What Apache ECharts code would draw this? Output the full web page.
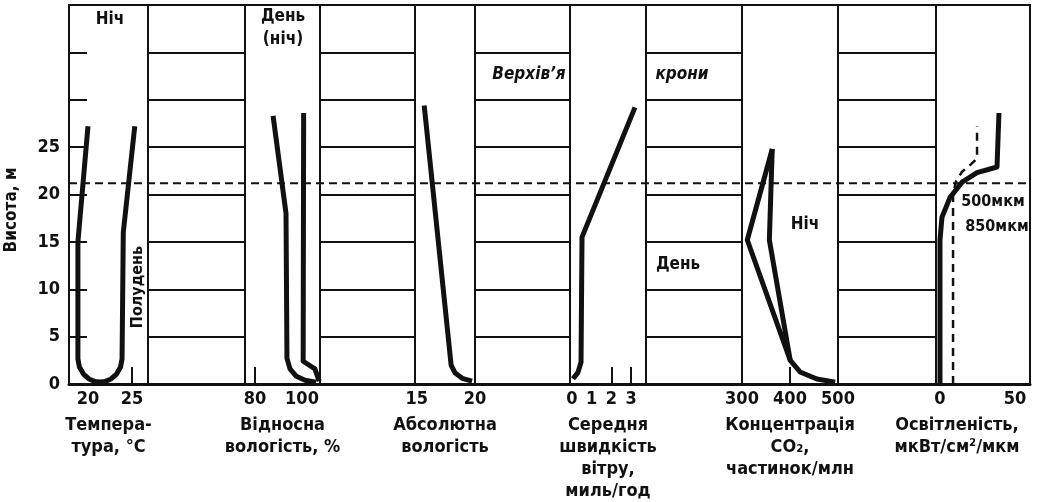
<!DOCTYPE html>
<html>
<head>
<meta charset="utf-8">
<script src="https://cdn.jsdelivr.net/npm/echarts@6/dist/echarts.min.js"></script>
<style>
  html, body { margin: 0; padding: 0; background: #fff; }
  #chart { width: 1039px; height: 502px; }
</style>
</head>
<body>
<div id="chart"></div>
<script>
// Vertical profiles inside a tropical forest: height (m) against six quantities.
const heightTicks = [0, 5, 10, 15, 20, 25];
const canopyTop = 21.2;

// Temperature, °C: night branch down to the ground, then midday branch back up
const tempX = [20.0, 18.86, 18.86, 19.03, 19.49, 20.11, 20.8, 21.36, 21.93, 22.61, 23.24, 23.69, 23.86, 24.0, 25.3];
const tempH = [27.2, 15.0, 2.64, 1.79, 1.05, 0.53, 0.26, 0.21, 0.26, 0.53, 1.05, 1.79, 2.64, 16.0, 27.2];

// Relative humidity, %
const rhDayX = [87.7, 93.2, 93.6, 94.9, 97.4, 101.3, 106.0];
const rhDayH = [28.3, 18.0, 2.7, 1.6, 0.85, 0.4, 0.2];
const rhNightX = [100.7, 100.5, 105.5, 107.3];
const rhNightH = [28.6, 2.4, 1.6, 0.3];

// Absolute humidity
const absX = [15.64, 17.95, 18.3, 18.9, 19.75];
const absH = [29.4, 2.0, 1.15, 0.6, 0.3];

// Mean wind speed, miles/h
const windX = [3.2, 0.51, 0.46, 0.3, 0.05];
const windH = [29.2, 15.5, 2.3, 1.2, 0.55];

// CO2 concentration, ppm
const co2DayX = [363, 311, 400.5, 421, 456, 494];
const co2DayH = [24.8, 15.2, 2.5, 1.27, 0.53, 0.2];
const co2NightX = [363, 357, 400.5];
const co2NightH = [24.8, 15.2, 2.5];

// Illumination, µW/cm²/µm at 500 µm (solid) and 850 µm (dashed)
const light500X = [0, 0, 1.3, 6.7, 14.7, 24.7, 38, 39.3, 39.3];
const light500H = [0, 15.2, 17.6, 19.7, 21.3, 22.3, 22.9, 23.0, 28.6];
const light850X = [8.7, 8.7, 10.7, 14.7, 20.7, 24.7, 24.7];
const light850H = [0, 20, 21.4, 22.4, 23.2, 23.8, 27.2];

// Axis labels and tick marks of each panel
const tempLabels = [20, 25], tempMarks = [25];
const rhLabels = [80, 100], rhMarks = [80];
const absLabels = [15, 20], absMarks = [];
const windLabels = [0, 1, 2, 3], windMarks = [2, 3];
const co2Labels = [300, 400, 500], co2Marks = [400];
const lightLabels = [0, 50], lightMarks = [];

const pairs = (xs, hs) => xs.map((x, i) => [x, hs[i]]);

const FONT = "'DejaVu Sans Condensed', 'Liberation Sans Narrow', 'DejaVu Sans', sans-serif";
const WEIGHT = 'bold';
const INK = '#111';
const W = 1039, H = 502, TOP = 5, BOTTOM = 384;

// panel layout: [left, right] in px, axis range, labels, marks, title
const panels = [
  { l: 69,  r: 148,  min: 17.85, max: 26.8,  labels: tempLabels,  marks: tempMarks,  name: 'Темпера-\nтура, °C' },
  { l: 245, r: 320,  min: 75.75, max: 107.66, labels: rhLabels,   marks: rhMarks,    name: 'Відносна\nвологість, %' },
  { l: 415, r: 475,  min: 14.85, max: 20,    labels: absLabels,   marks: absMarks,   name: 'Абсолютна\nвологість' },
  { l: 570, r: 646,  min: -0.1,  max: 3.76,  labels: windLabels,  marks: windMarks,  name: 'Середня\nшвидкість\nвітру,\nмиль/год' },
  { l: 742, r: 838,  min: 300,   max: 500,   labels: co2Labels,   marks: co2Marks,   name: 'Концентрація\nCO₂,\nчастинок/млн' },
  { l: 936, r: 1030, min: -2.67, max: 60,    labels: lightLabels, marks: lightMarks, name: 'Освітленість,\nмкВт/см²/мкм', shift: 52 }
];
const stripes = [[148, 245], [320, 415], [475, 570], [646, 742], [838, 936]];

const grids = [], xAxes = [], yAxes = [], series = [];
const gridBox = (l, r) => ({ left: l, right: W - r, top: TOP, bottom: H - BOTTOM, outerBoundsMode: 'none', containLabel: false });

// frame grid with the height axis and the canopy line
grids.push(Object.assign(gridBox(69, 1030), { show: true, borderColor: INK, borderWidth: 2 }));
xAxes.push({ gridIndex: 0, type: 'value', min: 0, max: 1, axisLabel: { show: false }, axisTick: { show: false }, splitLine: { show: false },
  axisLine: { show: true, lineStyle: { color: INK, width: 3 } } });
yAxes.push({ gridIndex: 0, type: 'value', min: 0, max: 40, interval: 5,
  axisLine: { show: false }, splitLine: { show: false },
  axisTick: { show: true, inside: true, length: 18, lineStyle: { color: INK, width: 2 } },
  axisLabel: { margin: 9, fontFamily: FONT, fontWeight: WEIGHT, fontSize: 18, color: INK,
    formatter: v => heightTicks.indexOf(v) >= 0 ? String(v) : '' } });
series.push({ type: 'line', xAxisIndex: 0, yAxisIndex: 0, data: [[0, canopyTop], [1, canopyTop]], showSymbol: false, silent: true, z: 1,
  lineStyle: { color: INK, width: 2, type: [8, 5] } });

// striped columns: horizontal rules every 5 m
stripes.forEach(([l, r]) => {
  const gi = grids.length;
  grids.push(Object.assign(gridBox(l, r), { show: true, borderColor: INK, borderWidth: 2 }));
  xAxes.push({ gridIndex: gi, type: 'value', min: 0, max: 1, show: false });
  yAxes.push({ gridIndex: gi, type: 'value', min: 0, max: 40, interval: 5,
    axisLine: { show: false }, axisTick: { show: false }, axisLabel: { show: false },
    splitLine: { show: true, lineStyle: { color: INK, width: 2 } } });
});

// data panels
const panelIndex = [];
panels.forEach(p => {
  const gi = grids.length;
  panelIndex.push(gi);
  grids.push(gridBox(p.l, p.r));
  xAxes.push({ gridIndex: gi, type: 'value', min: p.min, max: p.max,
    axisLine: { show: false }, splitLine: { show: false },
    axisTick: { show: true, inside: true, length: 17, customValues: p.marks, lineStyle: { color: INK, width: 2 } },
    axisLabel: { customValues: p.labels, margin: 6, fontFamily: FONT, fontWeight: WEIGHT, fontSize: 18, color: INK, showMinLabel: true, showMaxLabel: true, hideOverlap: false },
    name: p.name, nameLocation: 'middle', nameGap: 30,
    nameTextStyle: { fontFamily: FONT, fontWeight: WEIGHT, fontSize: 18, color: INK, lineHeight: 22, verticalAlign: 'top',
      padding: p.shift ? [0, p.shift, 0, 0] : 0 } });
  yAxes.push({ gridIndex: gi, type: 'value', min: 0, max: 40, show: false });
});

const curve = (pi, xs, hs, dashed) => ({
  type: 'line', xAxisIndex: panelIndex[pi], yAxisIndex: panelIndex[pi],
  data: pairs(xs, hs), showSymbol: false, silent: true, z: 5,
  lineStyle: dashed ? { color: INK, width: 2.5, type: [8, 6] } : { color: INK, width: 5, join: 'round' }
});

series.push(curve(0, tempX, tempH));
series.push(curve(1, rhDayX, rhDayH));
series.push(curve(1, rhNightX, rhNightH));
series.push(curve(2, absX, absH));
series.push(curve(3, windX, windH));
series.push(curve(4, co2DayX, co2DayH));
series.push(curve(4, co2NightX, co2NightH));
series.push(curve(5, light500X, light500H));
series.push(curve(5, light850X, light850H, true));

const txt = (text, x, y, size, extra) => Object.assign({
  type: 'text', x, y, z: 10,
  style: { text, font: (extra && extra.italic ? 'italic ' : '') + WEIGHT + ' ' + size + 'px ' + FONT, fill: INK, align: 'center', verticalAlign: 'middle' }
}, extra && extra.rotation ? { rotation: extra.rotation } : {});

const chart = echarts.init(document.getElementById('chart'), null, { renderer: 'canvas' });
chart.setOption({
  backgroundColor: '#fff',
  animation: false,
  grid: grids,
  xAxis: xAxes,
  yAxis: yAxes,
  series,
  graphic: [
    txt('Висота, м', 12, 210, 17, { rotation: Math.PI / 2 }),
    txt('Ніч', 110, 20, 17),
    txt('Полудень', 138, 287, 16, { rotation: Math.PI / 2 }),
    txt('День', 283, 17, 17),
    txt('(ніч)', 283, 40, 17),
    txt('Верхів’я', 529, 75, 17, { italic: true }),
    txt('крони', 682, 75, 17, { italic: true }),
    txt('День', 678, 265, 17),
    txt('Ніч', 805, 225, 17),
    txt('500мкм', 993, 202, 16),
    txt('850мкм', 997, 227, 16)
  ]
});
</script>
</body>
</html>
